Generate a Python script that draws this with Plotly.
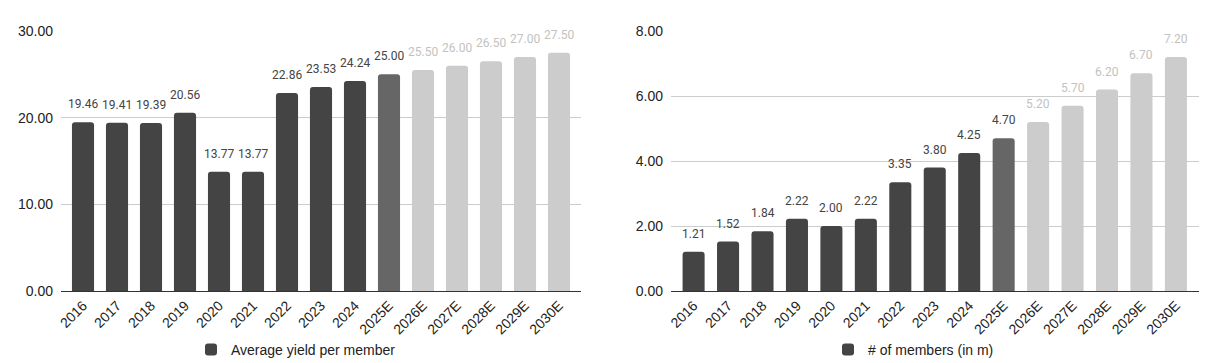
import plotly.graph_objects as go

years = ['2016', '2017', '2018', '2019', '2020', '2021', '2022', '2023', '2024',
         '2025E', '2026E', '2027E', '2028E', '2029E', '2030E']
avg_yield = [19.46, 19.41, 19.39, 20.56, 13.77, 13.77, 22.86, 23.53, 24.24,
             25.00, 25.50, 26.00, 26.50, 27.00, 27.50]
members = [1.21, 1.52, 1.84, 2.22, 2.00, 2.22, 3.35, 3.80, 4.25,
           4.70, 5.20, 5.70, 6.20, 6.70, 7.20]
kinds = ['actual'] * 9 + ['current'] + ['forecast'] * 5

bar_color = {'actual': '#444444', 'current': '#666666', 'forecast': '#cccccc'}
label_color = {'actual': '#444444', 'current': '#444444', 'forecast': '#c2c2c2'}

# the page body has an 8px margin; figure size chosen so it fills the 1209x363 window
OFF = 8
W, H = 1209 - OFF, 363 - OFF
fig = go.Figure()


def px_x(a):
    return (a - OFF) / W


def px_y(b):
    return 1 - (b - OFF) / H


fig.add_trace(go.Bar(
    x=years, y=avg_yield, name='Average yield per member',
    marker=dict(color=[bar_color[k] for k in kinds], cornerradius=3, line=dict(width=0)),
    width=0.65, xaxis='x', yaxis='y', legend='legend', hoverinfo='x+y'))
fig.add_trace(go.Bar(
    x=years, y=members, name='# of members (in m)',
    marker=dict(color=[bar_color[k] for k in kinds], cornerradius=3, line=dict(width=0)),
    width=0.64, xaxis='x2', yaxis='y2', legend='legend2', hoverinfo='x+y'))

annotations = []
for xr, yr, vals in (('x', 'y', avg_yield), ('x2', 'y2', members)):
    for i, (v, k) in enumerate(zip(vals, kinds)):
        annotations.append(dict(
            x=i, y=v, xref=xr, yref=yr, text=f'{v:.2f}', showarrow=False,
            yshift=18, yanchor='middle', xanchor='center',
            font=dict(family='Roboto', size=12, color=label_color[k])))

axis_font = dict(family='Liberation Sans, Arial', size=14, color='#222222')
xcommon = dict(type='category', tickangle=-45, showgrid=False, showline=True,
               linecolor='#333333', linewidth=1, ticks='', tickfont=axis_font,
               fixedrange=True)
ycommon = dict(showgrid=True, gridcolor='#cccccc', gridwidth=1, zeroline=False,
               ticks='', tickfont=axis_font, tickformat='.2f', showline=False,
               fixedrange=True, ticklabelstandoff=7)
legend_font = dict(family='Liberation Sans, Arial', size=14, color='#222222')

fig.update_layout(
    width=W, height=H,
    margin=dict(l=0, r=0, t=0, b=0, autoexpand=False),
    paper_bgcolor='white', plot_bgcolor='white',
    barmode='group', bargap=0.35,
    xaxis=dict(domain=[px_x(61), px_x(581)], range=[-0.647, 14.647], anchor='y', **xcommon),
    yaxis=dict(domain=[px_y(291), px_y(31)], range=[0, 30], tickvals=[0, 10, 20, 30],
               anchor='x', **ycommon),
    xaxis2=dict(domain=[px_x(671), px_x(1199)], range=[-0.656, 14.67], anchor='y2', **xcommon),
    yaxis2=dict(domain=[px_y(291), px_y(31)], range=[0, 8], tickvals=[0, 2, 4, 6, 8],
                anchor='x2', **ycommon),
    legend=dict(x=px_x(191), y=px_y(350), xanchor='left', yanchor='middle',
                orientation='h', font=legend_font, borderwidth=0,
                bgcolor='rgba(0,0,0,0)', itemclick=False, itemdoubleclick=False),
    legend2=dict(x=px_x(828), y=px_y(350), xanchor='left', yanchor='middle',
                 orientation='h', font=legend_font, borderwidth=0,
                 bgcolor='rgba(0,0,0,0)', itemclick=False, itemdoubleclick=False),
    annotations=annotations,
    showlegend=True,
)

fig.write_html('out.html', config={'displayModeBar': False})
